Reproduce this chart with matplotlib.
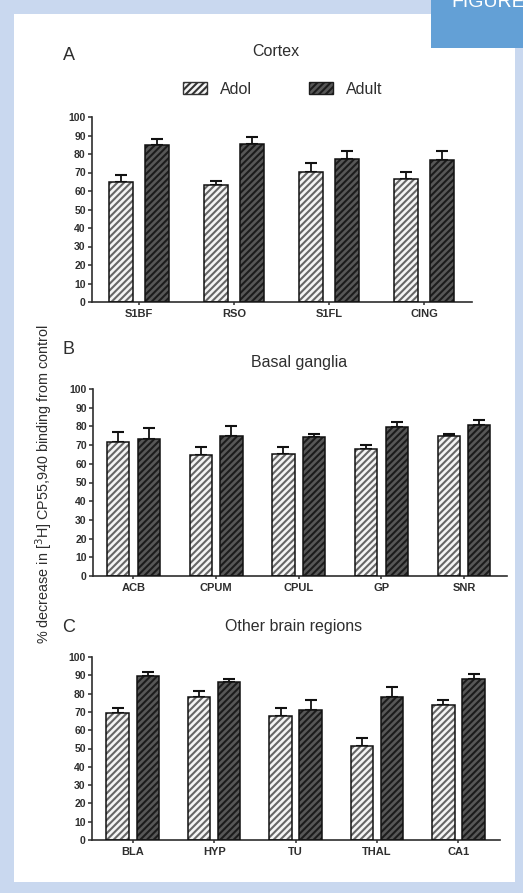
import matplotlib
matplotlib.use("Agg")
import matplotlib.pyplot as plt
import numpy as np
from matplotlib.patches import Rectangle, Patch

# -------------------------------------------------------------------
# Data (% decrease, mean and upper SEM)
# -------------------------------------------------------------------
cortex_regions = ["S1BF", "RSO", "S1FL", "CING"]
cortex_adol = [65, 63, 70.5, 66.5]
cortex_adol_err = [3.5, 2.5, 4.5, 4]
cortex_adult = [85, 85.5, 77.5, 77]
cortex_adult_err = [3, 3.5, 4, 4.5]

basal_regions = ["ACB", "CPUM", "CPUL", "GP", "SNR"]
basal_adol = [71.5, 64.5, 65, 68, 75]
basal_adol_err = [5.5, 4.5, 4, 1.8, 1]
basal_adult = [73.5, 75, 74.5, 79.5, 80.5]
basal_adult_err = [5.5, 5, 1.2, 3, 2.8]

other_regions = ["BLA", "HYP", "TU", "THAL", "CA1"]
other_adol = [69.5, 78, 67.5, 51.5, 73.5]
other_adol_err = [2.5, 3.5, 4.5, 4.5, 3]
other_adult = [89.5, 86.5, 71, 78, 88]
other_adult_err = [2.5, 1.5, 5.5, 5.5, 2.5]

y_ticks = list(range(0, 101, 10))

W, H = 523, 893
INK = "#2e2e2e"
ADOL_FACE, ADOL_HATCH = "#f4f4f4", "#666666"
ADULT_FACE, ADULT_HATCH = "#575757", "#1c1c1c"
HATCH = "/////"

plt.rcParams.update(
    {
        "font.family": ["Liberation Sans", "DejaVu Sans"],
        "hatch.linewidth": 1.5,
        "text.color": INK,
        "axes.edgecolor": INK,
        "xtick.color": INK,
        "ytick.color": INK,
    }
)


def px(x, y):
    return x / W, 1 - y / H


def px_rect(left, right, top, bottom):
    return [left / W, 1 - bottom / H, (right - left) / W, (bottom - top) / H]


def draw_panel(fig, rect, xlim, width, off, cats, adol, adol_err, adult, adult_err):
    ax = fig.add_axes(rect)
    x = np.arange(len(cats))
    for pos, vals, err, face, hatch in [
        (x - off, adol, adol_err, ADOL_FACE, ADOL_HATCH),
        (x + off, adult, adult_err, ADULT_FACE, ADULT_HATCH),
    ]:
        ax.bar(pos, vals, width, color=face, edgecolor=hatch, hatch=HATCH,
               linewidth=0, zorder=2)
        ax.bar(pos, vals, width, fill=False, edgecolor="#111111",
               linewidth=1.1, zorder=3)
        ax.errorbar(pos, vals, yerr=[np.zeros(len(vals)), err], fmt="none",
                    ecolor="#111111", elinewidth=1.3, capsize=4, capthick=1.5,
                    zorder=1)
    ax.set_xlim(*xlim)
    ax.set_ylim(0, 100)
    ax.set_yticks(y_ticks)
    ax.set_xticks(x)
    ax.set_xticklabels(cats, fontsize=8, fontweight="bold")
    ax.tick_params(axis="y", labelsize=7.5, length=3, width=1.1, pad=1.5)
    ax.tick_params(axis="x", length=2.5, width=1.1, pad=2.5)
    for lab in ax.get_yticklabels():
        lab.set_fontweight("bold")
    ax.spines[["top", "right"]].set_visible(False)
    ax.spines[["left", "bottom"]].set_linewidth(1.2)
    ax.set_facecolor("none")
    return ax


fig = plt.figure(figsize=(W / 100, H / 100), dpi=100)
fig.patch.set_facecolor("#c9d8ef")
fig.add_artist(Rectangle(px(14, 882), (515 - 14) / W, (882 - 14) / H,
                         transform=fig.transFigure, facecolor="white",
                         edgecolor="none", zorder=-5))
fig.add_artist(Rectangle(px(431, 48), (523 - 431) / W, 48 / H,
                         transform=fig.transFigure, facecolor="#63a0d6",
                         edgecolor="none", zorder=5))
fig.text(*px(451, 7), "FIGURE", color="white", fontsize=14,
         va="baseline", ha="left", zorder=6)

# Panel A: cortex
ax_a = draw_panel(fig, px_rect(92, 472, 117, 302), (-0.495, 3.505), 0.245, 0.19,
                  cortex_regions, cortex_adol, cortex_adol_err,
                  cortex_adult, cortex_adult_err)
fig.text(*px(63, 55), "A", fontsize=13, va="center", ha="left")
fig.text(*px(276, 52), "Cortex", fontsize=11.5, va="center", ha="center")
handles = [
    Patch(facecolor=ADOL_FACE, edgecolor="#333333", hatch=HATCH, label="Adol"),
    Patch(facecolor=ADULT_FACE, edgecolor="#1c1c1c", hatch=HATCH, label="Adult"),
]
fig.legend(handles=handles, loc="center left", bbox_to_anchor=px(183, 89),
           ncol=2, frameon=False, fontsize=11.5, handlelength=1.5,
           handleheight=0.7, handletextpad=0.8, columnspacing=3.6,
           borderpad=0, borderaxespad=0)

# Panel B: basal ganglia
ax_b = draw_panel(fig, px_rect(93, 507, 389, 576), (-0.49, 4.52), 0.27, 0.185,
                  basal_regions, basal_adol, basal_adol_err,
                  basal_adult, basal_adult_err)
fig.text(*px(62, 350), "B", fontsize=13, va="center", ha="left")
fig.text(*px(299, 362), "Basal ganglia", fontsize=11.5, va="center", ha="center")

# Panel C: other brain regions
ax_c = draw_panel(fig, px_rect(92, 500, 657, 840), (-0.5, 4.51), 0.275, 0.185,
                  other_regions, other_adol, other_adol_err,
                  other_adult, other_adult_err)
fig.text(*px(62, 628), "C", fontsize=13, va="center", ha="left")
fig.text(*px(294, 627), "Other brain regions", fontsize=11.5, va="center",
         ha="center")

fig.text(*px(44, 484), "% decrease in [$^3$H] CP55,940 binding from control",
         rotation=90, fontsize=10.4, va="center", ha="center")

fig.savefig("out.png", dpi=100)
